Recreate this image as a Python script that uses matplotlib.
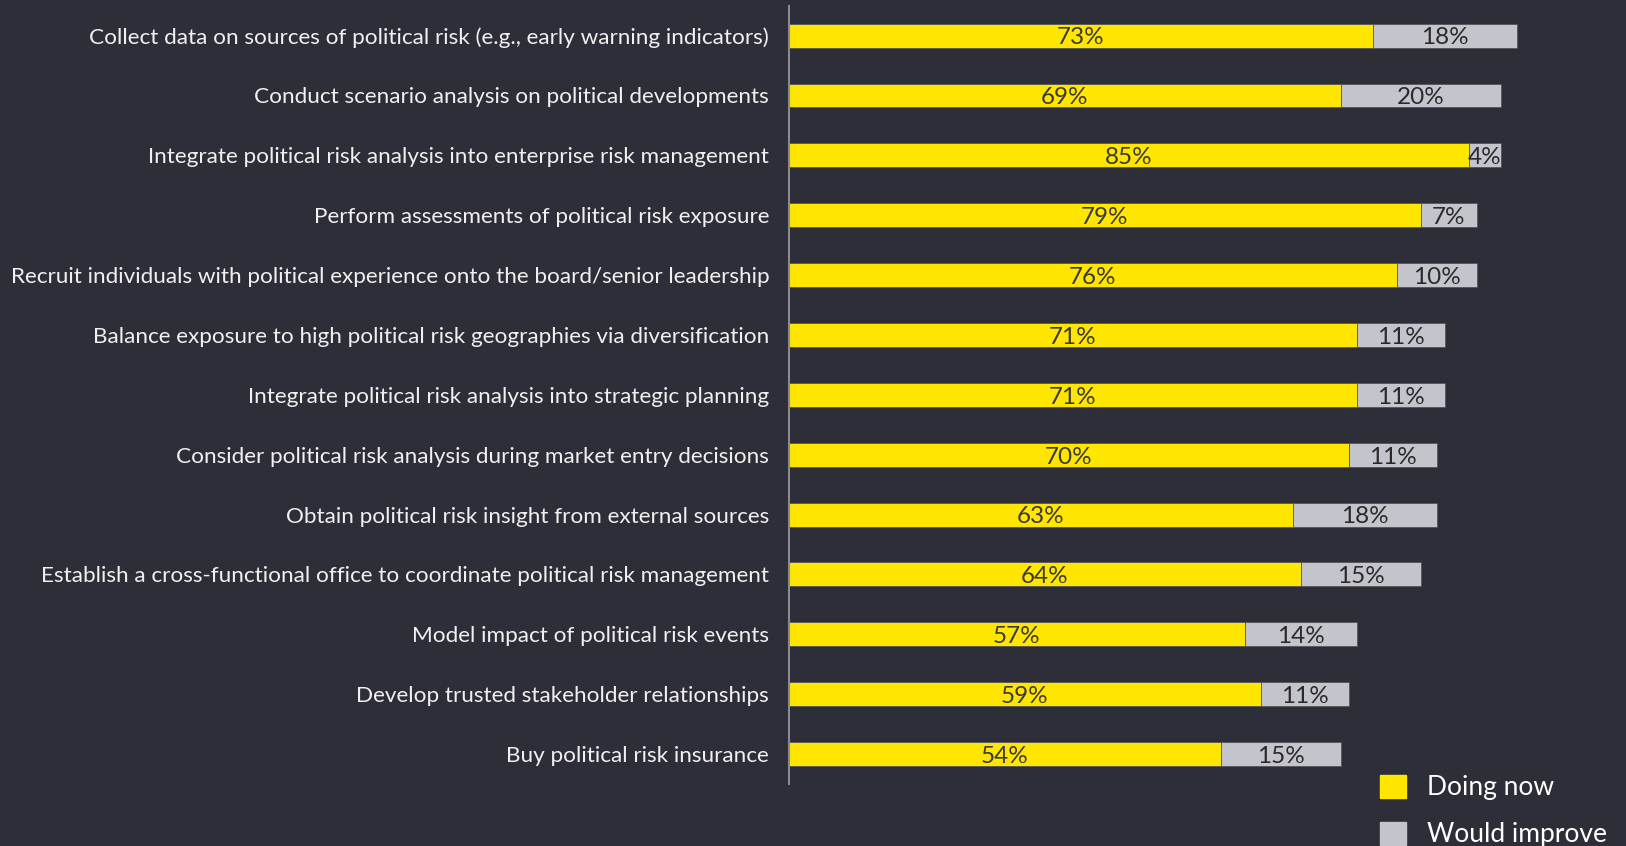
import matplotlib.pyplot as plt
from matplotlib.patches import Patch

labels = [
    "Collect data on sources of political risk (e.g., early warning indicators)",
    "Conduct scenario analysis on political developments",
    "Integrate political risk analysis into enterprise risk management",
    "Perform assessments of political risk exposure",
    "Recruit individuals with political experience onto the board/senior leadership",
    "Balance exposure to high political risk geographies via diversification",
    "Integrate political risk analysis into strategic planning",
    "Consider political risk analysis during market entry decisions",
    "Obtain political risk insight from external sources",
    "Establish a cross-functional office to coordinate political risk management",
    "Model impact of political risk events",
    "Develop trusted stakeholder relationships",
    "Buy political risk insurance",
]
doing_now = [73, 69, 85, 79, 76, 71, 71, 70, 63, 64, 57, 59, 54]
would_improve = [18, 20, 4, 7, 10, 11, 11, 11, 18, 15, 14, 11, 15]

bg = "#2e2e38"
yellow = "#ffe600"
grey = "#c4c4cd"
plt.rcParams['font.family'] = ['Lato', 'DejaVu Sans']

fig = plt.figure(figsize=(16.26, 8.46), dpi=100, facecolor=bg)
ax = fig.add_axes([0.485, 0.0733, 0.492, 0.92], facecolor=bg)

y = list(range(len(labels)))
b1 = ax.barh(y, doing_now, height=0.4, color=yellow, edgecolor="#555555", linewidth=0.6)
b2 = ax.barh(y, would_improve, left=doing_now, height=0.4, color=grey, edgecolor="#555555", linewidth=0.6)

for i in y:
    ax.text(doing_now[i] / 2, i + 0.04, f"{doing_now[i]}%", ha="center", va="center",
            fontsize=17.5, color="#3a3a3a")
    ax.text(doing_now[i] + would_improve[i] / 2, i + 0.04, f"{would_improve[i]}%", ha="center",
            va="center", fontsize=17.5, color="#2a2a2a")

ax.set_xlim(0, 100)
ax.set_ylim(len(labels) - 0.5, -0.5)
ax.set_yticks(y)
ax.set_yticklabels(labels, fontsize=16.2, color="#f0f0f0")
ax.tick_params(axis="y", length=0, pad=14)
ax.set_xticks([])
for s in ["top", "right", "bottom"]:
    ax.spines[s].set_visible(False)
ax.spines["left"].set_color("#8a8a92")
ax.spines["left"].set_linewidth(1.5)

handles = [Patch(color=yellow, label="Doing now"), Patch(color=grey, label="Would improve")]
fig.legend(handles=handles, loc="upper left", bbox_to_anchor=(0.8405, 0.1), frameon=False,
           fontsize=19, labelcolor="white", handlelength=1.0, handleheight=1.0,
           handletextpad=0.8, labelspacing=0.8, borderpad=0)

fig.savefig("out.png", dpi=100, facecolor=bg)
